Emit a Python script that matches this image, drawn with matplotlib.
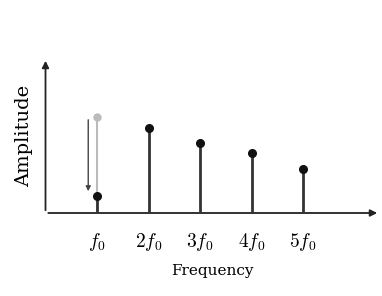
import matplotlib
matplotlib.use("Agg")
import matplotlib.pyplot as plt

plt.rcParams['mathtext.fontset'] = 'cm'
plt.rcParams['font.family'] = ['DejaVu Serif']

harmonics = [1, 2, 3, 4, 5]
tick_labels = ['$f_0$', '$2f_0$', '$3f_0$', '$4f_0$', '$5f_0$']
amplitudes = [17, 85, 70, 60, 44]
original_f0 = 96

fig = plt.figure(figsize=(3.82, 2.96), dpi=100)
W, H = 382, 296
x0, x1 = 45.5, 380
y0, y1 = 213, 58
ax = fig.add_axes([x0 / W, 1 - y0 / H, (x1 - x0) / W, (y0 - y1) / H])
xmax = (x1 - x0) / 51.5
ax.set_xlim(0, xmax)
ax.set_ylim(0, y0 - y1)
for s in ax.spines.values():
    s.set_visible(False)

# axes arrows
ax.annotate('', xy=(1, 0), xytext=(0, 0), xycoords='axes fraction',
            arrowprops=dict(arrowstyle='-|>', color='#222222', lw=1.3, mutation_scale=10))
ax.annotate('', xy=(0, 1), xytext=(0, 0), xycoords='axes fraction',
            arrowprops=dict(arrowstyle='-|>', color='#222222', lw=1.3, mutation_scale=10))

# original f0 (gray)
ax.plot([harmonics[0], harmonics[0]], [0, original_f0], color='#bbbbbb', lw=1.5, zorder=2)
ax.plot(harmonics[0], original_f0, 'o', color='#bbbbbb', ms=5, zorder=3)
# downward arrow
ax.annotate('', xy=(0.83, amplitudes[0] + 2), xytext=(0.83, original_f0),
            arrowprops=dict(arrowstyle='-|>', color='#444444', lw=1.0, mutation_scale=7))

for h, a in zip(harmonics, amplitudes):
    ax.plot([h, h], [0, a], color='#333333', lw=2, zorder=4)
    ax.plot(h, a, 'o', color='#111111', ms=5.5, zorder=5)

ax.set_xticks(harmonics)
ax.set_xticklabels(tick_labels, fontsize=14)
ax.tick_params(axis='x', length=0, pad=13)
ax.set_yticks([])
ax.set_xlabel('Frequency', fontsize=11, labelpad=8)
ax.set_ylabel('Amplitude', fontsize=14, labelpad=9)

fig.savefig('out.png', dpi=100)
